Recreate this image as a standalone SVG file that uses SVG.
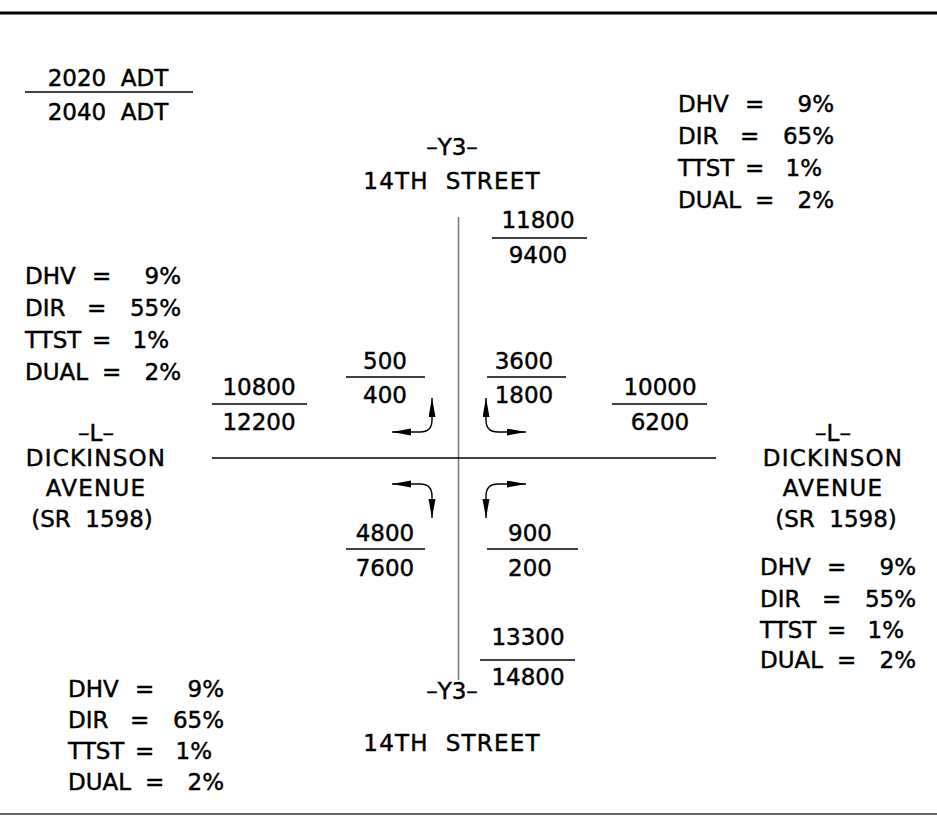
<svg xmlns="http://www.w3.org/2000/svg" width="937" height="825" viewBox="0 0 937 825">
<style>
text{font-family:"DejaVu Sans","Liberation Sans",sans-serif;font-size:23px;fill:#000;stroke:#000;stroke-width:0.45}
.m{text-anchor:middle}
.e{text-anchor:end}
.w{letter-spacing:1.2px}
.frac{stroke:#000;stroke-width:1.3}
.road{stroke-width:1.5}
.turn{fill:none;stroke:#000;stroke-width:1.4;marker-start:url(#ah);marker-end:url(#ah)}
</style>
<defs>
<marker id="ah" markerUnits="userSpaceOnUse" markerWidth="22" markerHeight="8" refX="19" refY="3.5" orient="auto-start-reverse">
<path d="M0,0 L19,3.5 L0,7 Z" fill="#000"/>
</marker>
</defs>
<rect width="937" height="825" fill="#fff"/>
<line x1="0" y1="13" x2="937" y2="13" stroke="#000" stroke-width="3"/>
<line x1="0" y1="814" x2="937" y2="814" stroke="#333" stroke-width="1.5"/>

<g id="roads">
<line class="road" x1="458.5" y1="217" x2="458.5" y2="680" stroke="#777"/>
<line class="road" x1="212" y1="458" x2="716" y2="458" stroke="#000"/>
</g>

<g id="connectors">
<path class="turn" d="M432,398 V420 Q432,432 420,432 H392"/>
<path class="turn" d="M486,398 V420 Q486,432 498,432 H526"/>
<path class="turn" d="M392,484 H420 Q432,484 432,496 V518"/>
<path class="turn" d="M526,484 H498 Q486,484 486,496 V518"/>
</g>

<g id="legend">
<text class="m" x="108" y="86" xml:space="preserve">2020  ADT</text>
<line class="frac" x1="25" y1="92" x2="193" y2="92"/>
<text class="m" x="108" y="120" xml:space="preserve">2040  ADT</text>
</g>

<g id="y3-north">
<text class="m" x="452" y="155">–Y3–</text>
<text class="m w" x="452" y="189" xml:space="preserve">14TH  STREET</text>
</g>
<g id="y3-south">
<text class="m" x="452" y="699">–Y3–</text>
<text class="m w" x="452" y="751" xml:space="preserve">14TH  STREET</text>
</g>
<g id="l-west">
<text class="m" x="96" y="441">–L–</text>
<text class="m w" x="96" y="466">DICKINSON</text>
<text class="m w" x="96" y="496">AVENUE</text>
<text class="m" x="92" y="527" xml:space="preserve">(SR  1598)</text>
</g>
<g id="l-east">
<text class="m" x="833" y="441">–L–</text>
<text class="m w" x="833" y="466">DICKINSON</text>
<text class="m w" x="833" y="496">AVENUE</text>
<text class="m" x="836" y="527" xml:space="preserve">(SR  1598)</text>
</g>

<g id="vol-north">
<text class="m" x="538" y="228">11800</text>
<line class="frac" x1="492" y1="238" x2="587" y2="238"/>
<text class="m" x="538" y="263">9400</text>
</g>
<g id="vol-nw-turn">
<text class="m" x="385" y="369">500</text>
<line class="frac" x1="346" y1="377" x2="425" y2="377"/>
<text class="m" x="385" y="403">400</text>
</g>
<g id="vol-ne-turn">
<text class="m" x="524" y="369">3600</text>
<line class="frac" x1="487" y1="377" x2="566" y2="377"/>
<text class="m" x="524" y="403">1800</text>
</g>
<g id="vol-west">
<text class="m" x="259" y="395">10800</text>
<line class="frac" x1="212" y1="404" x2="307" y2="404"/>
<text class="m" x="259" y="430">12200</text>
</g>
<g id="vol-east">
<text class="m" x="660" y="395">10000</text>
<line class="frac" x1="612" y1="404" x2="707" y2="404"/>
<text class="m" x="660" y="430">6200</text>
</g>
<g id="vol-sw-turn">
<text class="m" x="385" y="541">4800</text>
<line class="frac" x1="346" y1="549" x2="425" y2="549"/>
<text class="m" x="385" y="576">7600</text>
</g>
<g id="vol-se-turn">
<text class="m" x="530" y="541">900</text>
<line class="frac" x1="487" y1="549" x2="578" y2="549"/>
<text class="m" x="530" y="576">200</text>
</g>
<g id="vol-south">
<text class="m" x="528" y="645">13300</text>
<line class="frac" x1="480" y1="660" x2="575" y2="660"/>
<text class="m" x="528" y="685">14800</text>
</g>

<g id="factors-ne" transform="translate(678,0)">
<text x="0" y="112">DHV</text><text x="67" y="112">=</text><text class="e" x="156" y="112">9%</text>
<text x="0" y="144">DIR</text><text x="62" y="144">=</text><text class="e" x="156" y="144">65%</text>
<text x="0" y="176">TTST</text><text x="67" y="176">=</text><text class="e" x="144" y="176">1%</text>
<text x="0" y="208">DUAL</text><text x="77" y="208">=</text><text class="e" x="156" y="208">2%</text>
</g>
<g id="factors-w" transform="translate(25,0)">
<text x="0" y="284">DHV</text><text x="67" y="284">=</text><text class="e" x="156" y="284">9%</text>
<text x="0" y="316">DIR</text><text x="62" y="316">=</text><text class="e" x="156" y="316">55%</text>
<text x="0" y="348">TTST</text><text x="67" y="348">=</text><text class="e" x="144" y="348">1%</text>
<text x="0" y="380">DUAL</text><text x="77" y="380">=</text><text class="e" x="156" y="380">2%</text>
</g>
<g id="factors-e" transform="translate(760,0)">
<text x="0" y="575">DHV</text><text x="67" y="575">=</text><text class="e" x="156" y="575">9%</text>
<text x="0" y="607">DIR</text><text x="62" y="607">=</text><text class="e" x="156" y="607">55%</text>
<text x="0" y="638">TTST</text><text x="67" y="638">=</text><text class="e" x="144" y="638">1%</text>
<text x="0" y="668">DUAL</text><text x="77" y="668">=</text><text class="e" x="156" y="668">2%</text>
</g>
<g id="factors-sw" transform="translate(68,0)">
<text x="0" y="697">DHV</text><text x="67" y="697">=</text><text class="e" x="156" y="697">9%</text>
<text x="0" y="728">DIR</text><text x="62" y="728">=</text><text class="e" x="156" y="728">65%</text>
<text x="0" y="759">TTST</text><text x="67" y="759">=</text><text class="e" x="144" y="759">1%</text>
<text x="0" y="790">DUAL</text><text x="77" y="790">=</text><text class="e" x="156" y="790">2%</text>
</g>
</svg>
